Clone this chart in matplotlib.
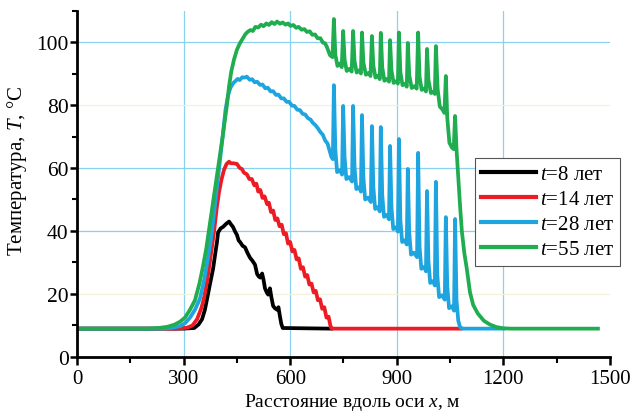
import matplotlib
matplotlib.use("Agg")
import matplotlib.pyplot as plt
from matplotlib.ticker import MultipleLocator

plt.rcParams['font.family'] = ['Liberation Serif', 'DejaVu Serif']
plt.rcParams['mathtext.fontset'] = 'custom'
plt.rcParams['mathtext.rm'] = 'Liberation Serif'
plt.rcParams['mathtext.it'] = 'Liberation Serif:italic'

# temperature profiles along the axis, x in metres, T in deg C
x_8 = [0, 300, 330, 342, 352, 360, 366, 374, 383, 390, 394, 397, 404, 411, 420, 428,
       434, 439, 445, 450, 455, 459, 466, 473, 480, 487, 494, 501, 507, 512, 516, 521,
       525, 529, 534, 538, 543, 547, 552, 557, 563, 567, 571, 575, 579, 715]
t_8 = [9, 9, 9.2, 10.3, 12, 15, 18.4, 23, 28, 33.5, 36.5, 39.5, 40.8, 41.3, 42.3, 43,
       42, 41.3, 39.8, 38.8, 37, 36.5, 35.3, 34.8, 33, 31.5, 30.5, 29.3, 26.3, 25.5, 25.2, 26.5,
       24.5, 21.8, 20.5, 19.8, 21.8, 19, 16.2, 15.5, 15, 15.8, 13, 10.5, 9.2, 9]

x_14 = [0, 280, 310, 325, 338, 350, 357, 366, 375, 386, 393, 400, 407, 414, 421, 428,
        433, 440, 450, 458, 464, 470, 478, 485, 492, 499, 505, 510, 516, 522, 528, 535,
        540, 546, 552, 558, 564, 570, 576, 582, 588, 594, 600, 606, 612, 618, 624, 630,
        636, 642, 648, 654, 660, 666, 672, 678, 684, 690, 696, 702, 708, 714, 717, 1080]
t_14 = [9, 9, 9.3, 10, 12, 15.5, 18.4, 24, 31, 40, 47, 52.5, 56.5, 59.5, 61.3, 62,
        61.5, 61.5, 61.3, 60, 59.7, 58.5, 58, 56.5, 56.5, 54.5, 55, 52.5, 53, 50.5, 51, 48.5,
        49, 46, 46.5, 43.5, 44, 41.5, 42, 39, 39.3, 36, 36.5, 33.5, 34, 31, 31.3, 28,
        28.5, 25.5, 26, 23, 23.3, 20.5, 21, 18, 18.3, 15.3, 15.8, 12.5, 12.8, 9.5, 9, 9]

x_28 = [0, 240, 270, 290, 305, 318, 332, 346, 358, 368, 375, 380, 390, 400, 410, 418,
        425, 432, 440, 446, 452, 458, 465, 472, 478, 486, 493, 500, 507, 515, 522, 530,
        537, 545, 552, 560, 567, 575, 582, 590, 597, 605, 612, 620, 627, 635, 642, 650,
        657, 664, 671, 678, 685, 692, 698, 705, 711, 716, 720,
        723, 727, 732, 740, 746,
        749, 753, 758, 766, 774,
        777, 781, 786, 794, 799,
        802, 806, 811, 819, 827,
        830, 834, 839, 847, 852,
        855, 859, 864, 872, 878,
        881, 885, 890, 898, 903,
        906, 910, 915, 923, 928,
        931, 935, 940, 948, 957,
        960, 964, 969, 977, 982,
        985, 989, 994, 1002, 1007,
        1010, 1014, 1019, 1027, 1035,
        1038, 1042, 1047, 1055, 1061,
        1064, 1068, 1073, 1078, 1085, 1200]
t_28 = [9, 9, 9.3, 9.8, 10.8, 12.5, 15, 18.5, 24.5, 31, 36, 40, 50, 60, 70, 78.5,
        83, 85.5, 87, 87.6, 88.3, 87.9, 88.8, 88.7, 89, 88, 88.2, 87.2, 87.4, 86.4, 86.5, 85.3,
        85.5, 84.3, 84.4, 83.2, 83.3, 82.1, 82.1, 81, 81, 79.8, 79.7, 78.5, 78.4, 77.2, 77, 75.8,
        75.4, 74.3, 73.6, 72.6, 71.4, 70.5, 68.8, 67.8, 65.5, 63.5, 62.8,
        86.3, 66, 58.7, 59.3, 57.9,
        79.7, 63.5, 56.5, 57.1, 55.7,
        79.7, 60.5, 53.3, 53.9, 52.5,
        76.8, 57, 50, 50.6, 49.2,
        73.3, 54, 47, 47.6, 46.2,
        73, 51.5, 44.5, 45.1, 43.7,
        67, 47.5, 40.6, 41.2, 39.8,
        69.2, 43.5, 36.5, 37.1, 35.7,
        59.7, 39.5, 32.5, 33.1, 31.7,
        64.8, 35, 28, 28.6, 27.2,
        52.7, 30.5, 23.5, 24.1, 22.7,
        55.6, 26, 19, 19.6, 18.2,
        44.4, 22.5, 15.5, 16.1, 14.7,
        43.8, 18, 11.5, 9.5, 9, 9]

x_55 = [0, 200, 230, 255, 275, 290, 304, 318, 332, 345, 355, 364, 371, 384, 397, 410,
        422, 428, 434, 442, 450, 458, 466, 474, 480, 488, 495, 502, 510, 518, 525, 533,
        540, 548, 556, 563, 571, 579, 587, 594, 601, 609, 617, 624, 632, 640, 647, 655,
        662, 670, 677, 685, 692, 698, 703, 712, 719,
        723, 727, 733, 740, 745,
        749, 753, 759, 767, 773,
        777, 781, 787, 794, 799,
        802, 806, 813, 821, 826,
        830, 834, 840, 848, 852,
        855, 859, 865, 873, 878,
        881, 885, 891, 899, 903,
        906, 910, 916, 924, 928,
        931, 935, 942, 950, 956,
        960, 964, 970, 978, 982,
        985, 989, 996, 1003, 1007,
        1010, 1015, 1021, 1029, 1034,
        1038, 1042, 1048, 1055, 1060,
        1064, 1068, 1073, 1078, 1083, 1090, 1097, 1106, 1115, 1128, 1145, 1162,
        1180, 1200, 1220, 1466]
t_55 = [9, 9, 9.2, 9.6, 10.3, 11.2, 12.5, 15, 18, 23.5, 29, 34.5, 40, 50, 60, 70,
        80, 86, 90.5, 94.5, 97.5, 99.5, 101, 102.5, 103.2, 103.8, 103.5, 104.8, 104.6, 105.5, 105, 105.9,
        105.4, 106.3, 105.7, 106.5, 105.8, 106.2, 105.5, 105.9, 105.1, 105.4, 104.5, 104.8, 103.9, 104.1, 103.2, 103.4,
        102.3, 102.4, 101.2, 101.2, 99.8, 99.6, 98.5, 95.8, 95.2,
        107.3, 96, 92.4, 93.2, 92,
        103.5, 94.5, 90.8, 91.5, 90.6,
        103.5, 94, 90.3, 91, 90,
        103, 93.5, 89.6, 90.2, 89.2,
        101.9, 92.5, 88.7, 89.4, 88.2,
        102.9, 92, 87.7, 88.3, 87.4,
        100.6, 91, 87, 87.6, 86.8,
        103, 90.5, 86.3, 86.8, 85.8,
        99.7, 89.5, 85.4, 86, 85.2,
        103, 89, 84.8, 85.3, 84.3,
        97.8, 88, 83.8, 84.2, 83.5,
        98.7, 85, 79.5, 78.5, 77.5,
        89.2, 76, 68, 66.5, 66,
        76.5, 66, 57, 48, 40, 33, 28, 20.5, 16.5, 13.8, 11.5, 10.3,
        9.5, 9.1, 9, 9]

labels = ['$t$=8 лет', '$t$=14 лет', '$t$=28 лет', '$t$=55 лет']
colors = ['#000000', '#ed1c24', '#1ea5e0', '#1fad4f']

fig = plt.figure(figsize=(6.33, 4.14), dpi=100)
ax = fig.add_axes([0.1216, 0.1353, 0.8421, 0.8369])

# background grid: blue lines plus the faint yellow ones
for gx in [300, 600, 900, 1200]:
    ax.axvline(gx, color='#8ad0ef', lw=0.9, zorder=0)
for gy in [40, 60, 100]:
    ax.axhline(gy, color='#8ad0ef', lw=0.9, zorder=0)
for gy in [20, 80]:
    ax.axhline(gy, color='#f3f0dc', lw=0.9, zorder=0)

series = [(x_8, t_8), (x_14, t_14), (x_28, t_28), (x_55, t_55)]
for (xs, ys), lab, col in zip(series, labels, colors):
    ax.plot(xs, ys, color=col, lw=2.7, label=lab)

ax.set_xlim(0, 1500)
ax.set_ylim(0, 110)
ax.xaxis.set_major_locator(MultipleLocator(300))
ax.xaxis.set_minor_locator(MultipleLocator(150))
ax.yaxis.set_major_locator(MultipleLocator(20))
ax.yaxis.set_minor_locator(MultipleLocator(10))

for side in ['top', 'right']:
    ax.spines[side].set_visible(False)
for side in ['left', 'bottom']:
    ax.spines[side].set_linewidth(2.0)
    ax.spines[side].set_color('black')

ax.tick_params(axis='x', which='major', direction='out', length=6, width=1.8,
               pad=3, labelsize=15)
ax.tick_params(axis='x', which='minor', direction='out', length=4, width=1.5)
ax.tick_params(axis='y', which='major', direction='out', length=5, width=1.8,
               pad=1, labelsize=15.5)
ax.tick_params(axis='y', which='minor', direction='out', length=3.5, width=1.5)

ax.set_xlabel('Расстояние вдоль оси $x$, м', fontsize=14)
ax.set_ylabel('Температура, $T$, °C', fontsize=15)
ax.xaxis.set_label_coords(0.516, -0.097)
ax.yaxis.set_label_coords(-0.09, 0.54)

leg = ax.legend(loc='upper right', bbox_to_anchor=(0.9795, 0.616),
                bbox_transform=fig.transFigure, borderaxespad=0,
                fontsize=15, handlelength=2.6, handletextpad=0.2,
                labelspacing=0.27, borderpad=0.3, fancybox=False,
                framealpha=1)
leg.get_frame().set_edgecolor('#555555')
leg.get_frame().set_linewidth(0.8)
for line in leg.get_lines():
    line.set_linewidth(3)

fig.savefig('out.png', dpi=100)
